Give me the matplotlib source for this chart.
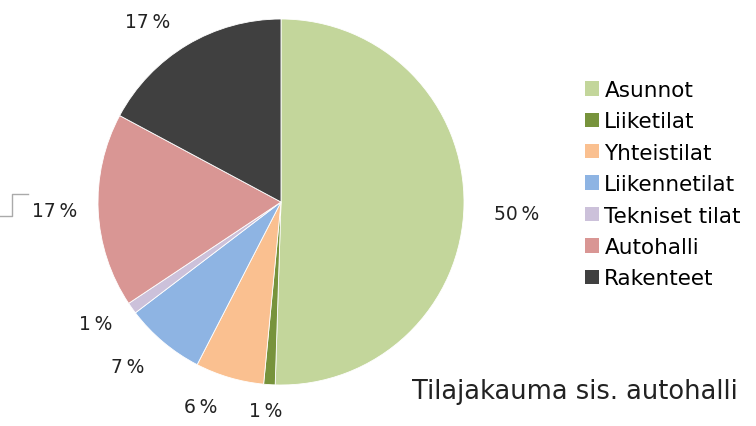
import matplotlib
matplotlib.use("Agg")
import matplotlib.pyplot as plt
from matplotlib.patches import Patch

labels = ["Asunnot", "Liiketilat", "Yhteistilat", "Liikennetilat",
          "Tekniset tilat", "Autohalli", "Rakenteet"]
values = [50, 1, 6, 7, 1, 17, 17]
pct_text = ["50\u2009%", "1\u2009%", "6\u2009%", "7\u2009%", "1\u2009%", "17\u2009%", "17\u2009%"]
colors = ["#C3D69B", "#77933C", "#FAC090", "#8EB4E3",
          "#CCC1DA", "#D99694", "#404040"]

W, H = 756, 427
fig = plt.figure(figsize=(W / 100, H / 100), dpi=100)
ax = fig.add_axes([0, 0, 1, 1])

cx, cy, r = 281, H - 203, 183
wedges, _ = ax.pie(values, colors=colors, startangle=90, counterclock=False,
                   center=(cx, cy), radius=r, frame=True,
                   wedgeprops=dict(edgecolor="white", linewidth=0.6))
ax.set_xlim(0, W)
ax.set_ylim(0, H)
ax.set_aspect("equal")
ax.axis("off")

# label spots (pixel coords, y from top)
spots = [(517, 215), (266, 412), (201, 408), (128, 368),
         (96, 325), (55, 212), (148, 22)]
for txt, (x, y) in zip(pct_text, spots):
    ax.text(x, H - y, txt, fontsize=13.5, ha="center", va="center", color="#222222")

# leader line for the left 17 %
ax.plot([0, 12, 12, 28], [H - 217, H - 217, H - 195, H - 195],
        color="#aaaaaa", lw=1)

handles = [Patch(facecolor=c, edgecolor="none") for c in colors]
fig.legend(handles, labels, loc="upper left", bbox_to_anchor=(585 / W, 1 - 81 / H),
           frameon=False, fontsize=15.5, handlelength=0.65, handleheight=0.65,
           handletextpad=0.25, labelspacing=0.53, borderaxespad=0, borderpad=0)

fig.text(738 / W, 1 - 392 / H, "Tilajakauma sis. autohalli", fontsize=18.5,
         ha="right", va="center", color="#222222")

fig.savefig("out.png", dpi=100)
